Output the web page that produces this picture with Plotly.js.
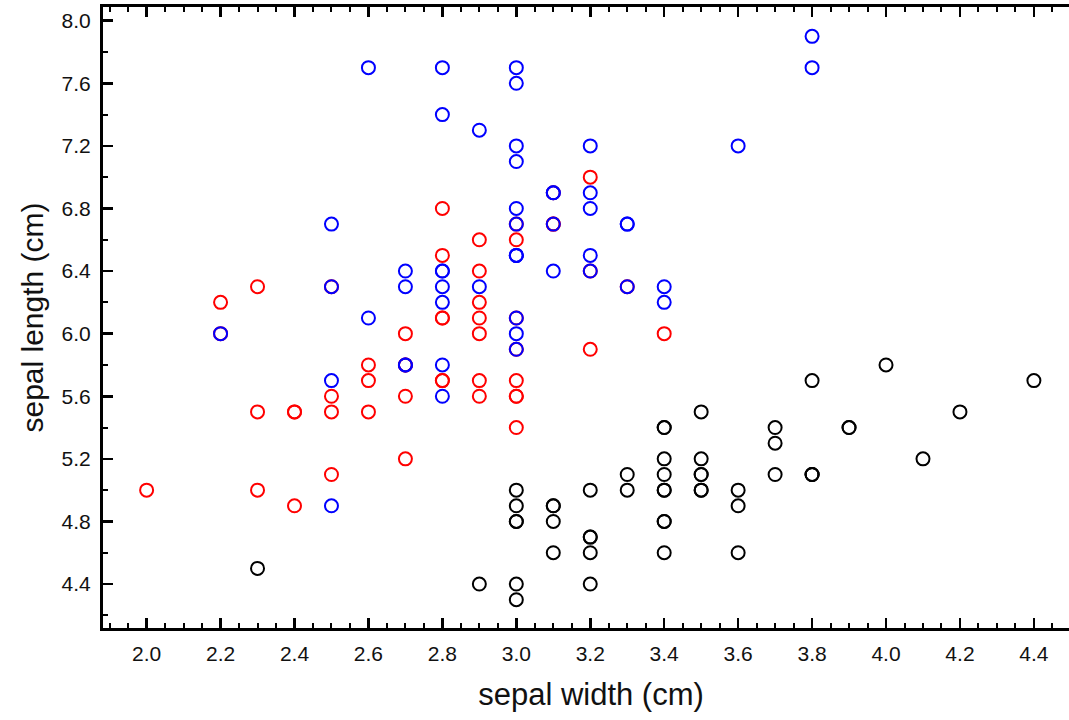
<!DOCTYPE html>
<html>
<head>
<meta charset="utf-8">
<script src="https://cdn.plot.ly/plotly-3.0.1.min.js"></script>
<style>
html, body { margin: 0; padding: 0; overflow: hidden; background: #fff; }
#chart { width: 1085px; height: 720px; }
</style>
</head>
<body>
<div id="chart"></div>
<script>
// Iris data: sepal width (x) vs sepal length (y)
const setosaWidth = [3.5,3.0,3.2,3.1,3.6,3.9,3.4,3.4,2.9,3.1,3.7,3.4,3.0,3.0,4.0,4.4,3.9,3.5,3.8,3.8,3.4,3.7,3.6,3.3,3.4,3.0,3.4,3.5,3.4,3.2,3.1,3.4,4.1,4.2,3.1,3.2,3.5,3.6,3.0,3.4,3.5,2.3,3.2,3.5,3.8,3.0,3.8,3.2,3.7,3.3];
const setosaLength = [5.1,4.9,4.7,4.6,5.0,5.4,4.6,5.0,4.4,4.9,5.4,4.8,4.8,4.3,5.8,5.7,5.4,5.1,5.7,5.1,5.4,5.1,4.6,5.1,4.8,5.0,5.0,5.2,5.2,4.7,4.8,5.4,5.2,5.5,4.9,5.0,5.5,4.9,4.4,5.1,5.0,4.5,4.4,5.0,5.1,4.8,5.1,4.6,5.3,5.0];

const versicolorWidth = [3.2,3.2,3.1,2.3,2.8,2.8,3.3,2.4,2.9,2.7,2.0,3.0,2.2,2.9,2.9,3.1,3.0,2.7,2.2,2.5,3.2,2.8,2.5,2.8,2.9,3.0,2.8,3.0,2.9,2.6,2.4,2.4,2.7,2.7,3.0,3.4,3.1,2.3,3.0,2.5,2.6,3.0,2.6,2.3,2.7,3.0,2.9,2.9,2.5,2.8];
const versicolorLength = [7.0,6.4,6.9,5.5,6.5,5.7,6.3,4.9,6.6,5.2,5.0,5.9,6.0,6.1,5.6,6.7,5.6,5.8,6.2,5.6,5.9,6.1,6.3,6.1,6.4,6.6,6.8,6.7,6.0,5.7,5.5,5.5,5.8,6.0,5.4,6.0,6.7,6.3,5.6,5.5,5.5,6.1,5.8,5.0,5.6,5.7,5.7,6.2,5.1,5.7];

const virginicaWidth = [3.3,2.7,3.0,2.9,3.0,3.0,2.5,2.9,2.5,3.6,3.2,2.7,3.0,2.5,2.8,3.2,3.0,3.8,2.6,2.2,3.2,2.8,2.8,2.7,3.3,3.2,2.8,3.0,2.8,3.0,2.8,3.8,2.8,2.8,2.6,3.0,3.4,3.1,3.0,3.1,3.1,3.1,2.7,3.2,3.3,3.0,2.5,3.0,3.4,3.0];
const virginicaLength = [6.3,5.8,7.1,6.3,6.5,7.6,4.9,7.3,6.7,7.2,6.5,6.4,6.8,5.7,5.8,6.4,6.5,7.7,7.7,6.0,6.9,5.6,7.7,6.3,6.7,7.2,6.2,6.1,6.4,7.2,7.4,7.9,6.4,6.3,6.1,7.7,6.3,6.4,6.0,6.9,6.7,6.9,5.8,6.8,6.7,6.7,6.3,6.5,6.2,5.9];

const seriesColors = ['#000000', '#ff0000', '#0000ff'];

function series(x, y, color) {
  return {
    x: x, y: y, type: 'scatter', mode: 'markers',
    marker: { symbol: 'circle-open', size: 13, color: color, line: { width: 2, color: color } },
    hoverinfo: 'skip', showlegend: false
  };
}

const data = [
  series(setosaWidth, setosaLength, seriesColors[0]),
  series(versicolorWidth, versicolorLength, seriesColors[1]),
  series(virginicaWidth, virginicaLength, seriesColors[2])
];

const axisCommon = {
  showgrid: false, zeroline: false, showline: true, linecolor: '#000', linewidth: 3,
  mirror: 'ticks', ticks: 'inside', ticklen: 10, tickwidth: 2.5, tickcolor: '#000',
  tickformat: '.1f', tickfont: { family: 'Liberation Sans, Arial, sans-serif', size: 21, color: '#111' }
};

const layout = {
  width: 1085, height: 720,
  margin: { l: 103, r: 6, t: 7, b: 92 },
  paper_bgcolor: '#fff', plot_bgcolor: '#fff',
  font: { family: 'Liberation Sans, Arial, sans-serif', color: '#111' },
  xaxis: Object.assign({}, axisCommon, {
    range: [1.882, 4.522], tick0: 0, dtick: 0.2, ticklabelstandoff: 5,
    minor: { dtick: 0.05, ticks: 'inside', ticklen: 5, tickwidth: 2, tickcolor: '#000' },
    title: { text: 'sepal width (cm)', font: { size: 31, color: '#111' }, standoff: 20 }
  }),
  yaxis: Object.assign({}, axisCommon, {
    range: [4.119, 8.0875], tick0: 0, dtick: 0.4, ticklabelstandoff: 5,
    minor: { dtick: 0.2, ticks: 'inside', ticklen: 5, tickwidth: 2, tickcolor: '#000' },
    title: { text: 'sepal length (cm)', font: { size: 30, color: '#111' }, standoff: 10 }
  })
};

Plotly.newPlot('chart', data, layout, { displayModeBar: false, staticPlot: true });
</script>
</body>
</html>
